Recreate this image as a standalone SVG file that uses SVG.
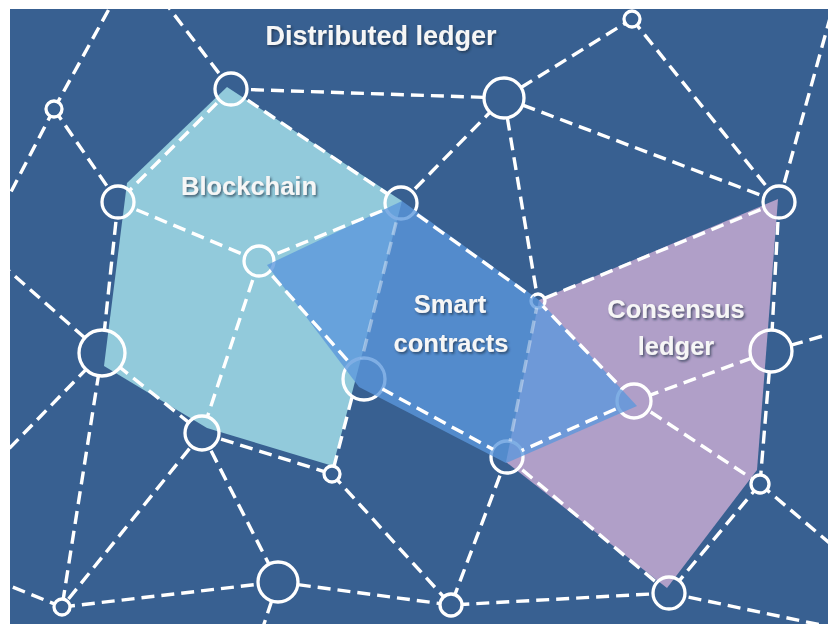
<svg xmlns="http://www.w3.org/2000/svg" width="828" height="624" viewBox="0 0 828 624">
<style>
.bg{fill:#386091}
.edge{stroke:#ffffff;stroke-width:3.4;stroke-dasharray:13 7;fill:none}
.faded{stroke-opacity:0.4}
.node{fill:none;stroke:#ffffff;stroke-width:3.3}
.lbl{font-family:"Liberation Sans",Arial,sans-serif;font-weight:bold;fill:#f6f6f6;text-anchor:middle;filter:url(#sh)}
</style>
<defs>
<filter id="sh" x="-10%" y="-30%" width="120%" height="160%">
<feDropShadow dx="1.5" dy="1.8" stdDeviation="1.2" flood-color="#1a2a40" flood-opacity="0.65"/>
</filter>
<mask id="holes" maskUnits="userSpaceOnUse" x="0" y="0" width="828" height="624">
<rect x="10" y="9" width="818" height="615" fill="#fff"/>
<g fill="#000">
<circle cx="231" cy="89" r="16"/><circle cx="54" cy="109" r="8"/><circle cx="118" cy="202" r="16"/>
<circle cx="259" cy="261" r="15"/><circle cx="401" cy="203" r="16"/><circle cx="504" cy="98" r="20"/>
<circle cx="632" cy="19" r="8"/><circle cx="779" cy="202" r="16"/><circle cx="538" cy="301" r="7"/>
<circle cx="102" cy="353" r="23"/><circle cx="364" cy="379" r="21"/><circle cx="202" cy="433" r="17"/>
<circle cx="332" cy="474" r="8"/><circle cx="62" cy="607" r="8"/><circle cx="278" cy="582" r="20"/>
<circle cx="771" cy="351" r="21"/><circle cx="634" cy="401" r="17"/><circle cx="507" cy="457" r="16"/>
<circle cx="760" cy="484" r="9"/><circle cx="669" cy="593" r="16"/><circle cx="451" cy="605" r="11"/>
</g>
</mask>
</defs>
<rect width="828" height="624" fill="#ffffff"/>
<rect class="bg" x="10" y="9" width="818" height="615"/>
<g id="regions">
<polygon id="blockchain-area" points="227,87 402,201 333,466 207,428 104,366 127,183" fill="#92cadb"/>
<polygon id="consensus-area" points="539,300 778,199 757,470 667,588 506,462" fill="#b09fc8"/>
</g>
<g id="nodes">
<g id="n1"><circle class="node" cx="231" cy="89" r="16"/></g>
<g id="n2"><circle class="node" cx="54" cy="109" r="8"/></g>
<g id="n3"><circle class="node" cx="118" cy="202" r="16"/></g>
<g id="n4"><circle class="node" cx="259" cy="261" r="15"/></g>
<g id="n5"><circle class="node" cx="401" cy="203" r="16"/></g>
<g id="n6"><circle class="node" cx="504" cy="98" r="20"/></g>
<g id="n7"><circle class="node" cx="632" cy="19" r="8"/></g>
<g id="n8"><circle class="node" cx="779" cy="202" r="16"/></g>
<g id="n9"><circle class="node" cx="538" cy="301" r="7"/></g>
<g id="n10"><circle class="node" cx="102" cy="353" r="23"/></g>
<g id="n11"><circle class="node" cx="364" cy="379" r="21"/></g>
<g id="n12"><circle class="node" cx="202" cy="433" r="17"/></g>
<g id="n13"><circle class="node" cx="332" cy="474" r="8"/></g>
<g id="n14"><circle class="node" cx="62" cy="607" r="8"/></g>
<g id="n15"><circle class="node" cx="278" cy="582" r="20"/></g>
<g id="n16"><circle class="node" cx="771" cy="351" r="21"/></g>
<g id="n17"><circle class="node" cx="634" cy="401" r="17"/></g>
<g id="n18"><circle class="node" cx="507" cy="457" r="16"/></g>
<g id="n19"><circle class="node" cx="760" cy="484" r="9"/></g>
<g id="n20"><circle class="node" cx="669" cy="593" r="16"/></g>
<g id="n21"><circle class="node" cx="451" cy="605" r="11"/></g>
</g>
<g id="smart-contracts-area">
<polygon points="267,265 402,201 539,300 637,406 506,463 359,387" fill="#5b97dc" fill-opacity="0.78"/>
</g>
<g id="connectors" mask="url(#holes)">
<line class="edge" x1="231" y1="89" x2="163" y2="0"/>
<line class="edge" x1="54" y1="109" x2="114" y2="0"/>
<line class="edge" x1="54" y1="109" x2="0" y2="213"/>
<line class="edge" x1="54" y1="109" x2="118" y2="202"/>
<line class="edge" x1="231" y1="89" x2="118" y2="202"/>
<line class="edge" x1="231" y1="89" x2="401" y2="203"/>
<line class="edge" x1="231" y1="89" x2="504" y2="98"/>
<line class="edge" x1="118" y1="202" x2="259" y2="261"/>
<line class="edge" x1="118" y1="202" x2="102" y2="353"/>
<line class="edge" x1="0" y1="263" x2="102" y2="353"/>
<line class="edge" x1="102" y1="353" x2="0" y2="458"/>
<line class="edge" x1="102" y1="353" x2="202" y2="433"/>
<line class="edge" x1="102" y1="353" x2="62" y2="607"/>
<line class="edge" x1="259" y1="261" x2="401" y2="203"/>
<line class="edge" x1="259" y1="261" x2="364" y2="379"/>
<line class="edge" x1="259" y1="261" x2="202" y2="433"/>
<line class="edge" x1="401" y1="203" x2="504" y2="98"/>
<line class="edge" x1="401" y1="203" x2="538" y2="301"/>
<line class="edge faded" x1="401" y1="203" x2="357" y2="378"/>
<line class="edge" x1="357" y1="378" x2="332" y2="474"/>
<line class="edge" x1="504" y1="98" x2="632" y2="19"/>
<line class="edge" x1="504" y1="98" x2="779" y2="202"/>
<line class="edge" x1="504" y1="98" x2="538" y2="301"/>
<line class="edge" x1="632" y1="19" x2="779" y2="202"/>
<line class="edge" x1="779" y1="202" x2="835" y2="0"/>
<line class="edge" x1="779" y1="202" x2="538" y2="301"/>
<line class="edge" x1="779" y1="202" x2="771" y2="351"/>
<line class="edge" x1="538" y1="301" x2="634" y2="401"/>
<line class="edge faded" x1="538" y1="301" x2="507" y2="457"/>
<line class="edge" x1="364" y1="379" x2="507" y2="457"/>
<line class="edge" x1="202" y1="433" x2="332" y2="474"/>
<line class="edge" x1="202" y1="433" x2="62" y2="607"/>
<line class="edge" x1="202" y1="433" x2="278" y2="582"/>
<line class="edge" x1="332" y1="474" x2="451" y2="605"/>
<line class="edge" x1="62" y1="607" x2="0" y2="582"/>
<line class="edge" x1="62" y1="607" x2="278" y2="582"/>
<line class="edge" x1="278" y1="582" x2="451" y2="605"/>
<line class="edge" x1="278" y1="582" x2="262" y2="630"/>
<line class="edge" x1="771" y1="351" x2="840" y2="331"/>
<line class="edge" x1="771" y1="351" x2="634" y2="401"/>
<line class="edge" x1="771" y1="351" x2="760" y2="484"/>
<line class="edge" x1="634" y1="401" x2="507" y2="457"/>
<line class="edge" x1="634" y1="401" x2="760" y2="484"/>
<line class="edge" x1="507" y1="457" x2="669" y2="593"/>
<line class="edge" x1="507" y1="457" x2="451" y2="605"/>
<line class="edge" x1="760" y1="484" x2="840" y2="552"/>
<line class="edge" x1="760" y1="484" x2="669" y2="593"/>
<line class="edge" x1="669" y1="593" x2="451" y2="605"/>
<line class="edge" x1="669" y1="593" x2="840" y2="629"/>
</g>
<g id="labels">
<text class="lbl" x="381" y="45" font-size="27">Distributed ledger</text>
<text class="lbl" x="249" y="195" font-size="25.5">Blockchain</text>
<text class="lbl" x="450" y="313" font-size="25.5">Smart</text>
<text class="lbl" x="451" y="352" font-size="25.5">contracts</text>
<text class="lbl" x="676" y="318" font-size="25.5">Consensus</text>
<text class="lbl" x="676" y="355" font-size="25.5">ledger</text>
</g>
</svg>
